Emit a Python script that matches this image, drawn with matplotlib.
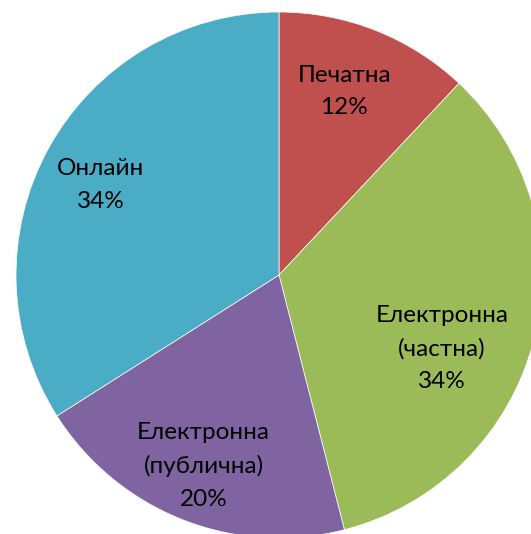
import matplotlib.pyplot as plt
import numpy as np

labels = ['Печатна', 'Електронна\n(частна)', 'Електронна\n(публична)', 'Онлайн']
values = [12, 34, 20, 34]
colors = ['#C0504D', '#9BBB59', '#8064A2', '#4BACC6']
# label distance (fraction of radius) and angle tweak per slice
label_dist = [0.74, 0.68, 0.78, 0.76]
angle_shift = [-2, 10, 0, -2]

fig = plt.figure(figsize=(5.31, 5.34), dpi=100)
ax = fig.add_axes([0, 0, 1, 1])

wedges, _ = ax.pie(values, colors=colors, startangle=90, counterclock=False,
                   radius=1.0, center=(0, 0),
                   wedgeprops=dict(edgecolor='white', linewidth=0.5, alpha=1))

total = sum(values)
cum = 0
for i, v in enumerate(values):
    mid = (cum + v / 2) / total * 360 + angle_shift[i]
    cum += v
    a = np.deg2rad(90 - mid)
    x = label_dist[i] * np.cos(a)
    y = label_dist[i] * np.sin(a)
    ax.text(x, y, f'{labels[i]}\n{v}%', ha='center', va='center',
            fontsize=17.5, family='Lato', linespacing=1.68, color='black')

# pixel scale: radius 263 px, centre at (279, 275) from top-left
s = 263.0
ax.set_xlim(-279 / s, (531 - 279) / s)
ax.set_ylim(-(534 - 275) / s, 275 / s)
ax.set_aspect('auto')
ax.axis('off')

plt.savefig('out.png', dpi=100)
